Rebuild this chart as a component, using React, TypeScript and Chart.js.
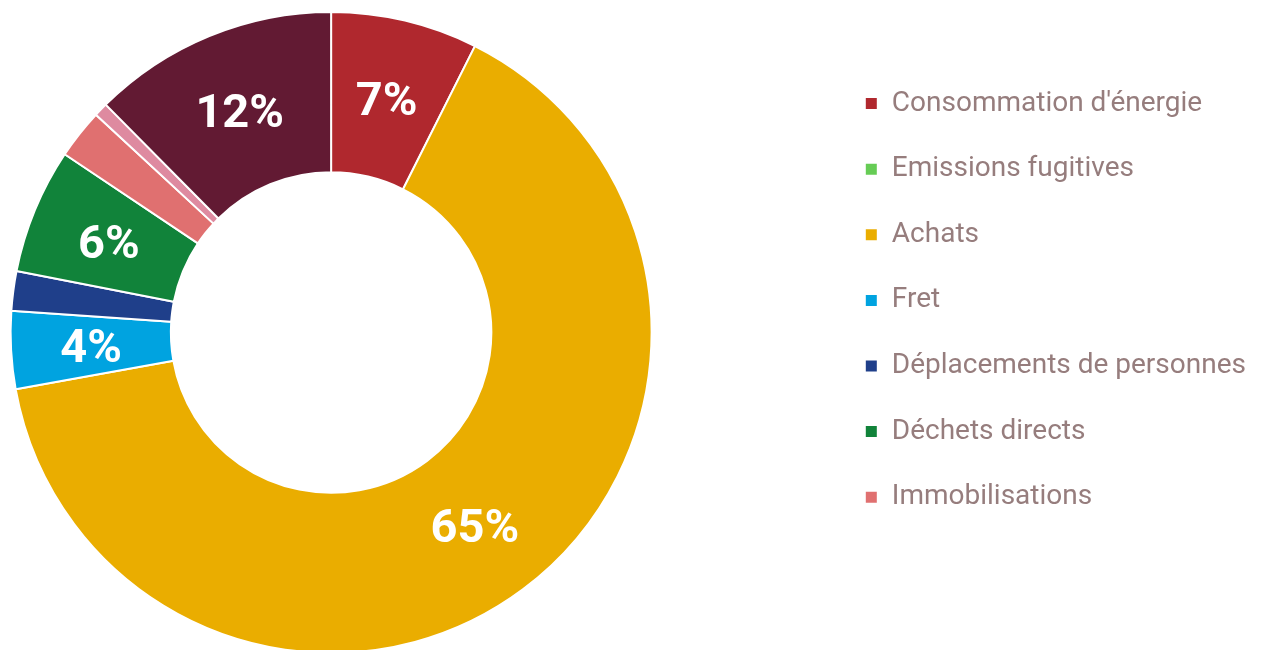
import React, { useEffect, useRef } from "react";
import { Chart, registerables } from "chart.js";

Chart.register(...registerables);

const categories = [
  "Consommation d'énergie",
  "Emissions fugitives",
  "Achats",
  "Fret",
  "Déplacements de personnes",
  "Déchets directs",
  "Immobilisations",
  "Utilisation",
  "Fin de vie",
];
const values = [7.4, 0, 64.7, 3.9, 2.0, 6.3, 2.5, 0.7, 12.4];
const colors = [
  "#b0282e",
  "#66cc55",
  "#eaad00",
  "#00a3e0",
  "#1f3f8a",
  "#11833a",
  "#e07070",
  "#de8aa0",
  "#621a33",
];
const legendCount = 7;

const labelPlugin = {
  id: "sliceLabels",
  afterDatasetsDraw(chart: any) {
    const ctx = chart.ctx;
    const meta = chart.getDatasetMeta(0);
    const data = chart.data.datasets[0].data as number[];
    const total = data.reduce((a, b) => a + b, 0);
    ctx.save();
    ctx.fillStyle = "#ffffff";
    ctx.font = "bold 47px Roboto";
    ctx.textAlign = "center";
    ctx.textBaseline = "middle";
    meta.data.forEach((arc: any, i: number) => {
      const pct = (data[i] / total) * 100;
      if (pct < 3) return;
      const p = arc.getCenterPoint();
      ctx.fillText(Math.round(pct) + "%", p.x, p.y + 5);
    });
    ctx.restore();
  },
};

export default function App() {
  const ref = useRef<HTMLCanvasElement>(null);
  useEffect(() => {
    if (!ref.current) return;
    const chart = new Chart(ref.current, {
      type: "doughnut",
      data: {
        labels: categories,
        datasets: [
          {
            data: values,
            backgroundColor: colors,
            borderColor: "#ffffff",
            borderWidth: 2,
            hoverOffset: 0,
          },
        ],
      },
      options: {
        animation: false,
        responsive: true,
        maintainAspectRatio: false,
        cutout: "50%",
        layout: { padding: { top: 11, bottom: 0, left: 0, right: 5 } },
        plugins: {
          tooltip: { enabled: false },
          legend: {
            position: "right",
            align: "start",
            title: { display: true, text: "", font: { size: 10 }, padding: { top: 29, bottom: 0 } },
            labels: {
              boxWidth: 13,
              boxHeight: 13,
              padding: 37.6,
              color: "#967d7d",
              font: { family: "Roboto", size: 28 },
              filter: (item: any) => item.index < legendCount,
            },
          },
        },
      },
      plugins: [labelPlugin],
    });
    return () => chart.destroy();
  }, []);
  return (
    <div style={{ position: "fixed", left: -165, top: 0, width: 1426, height: 654 }}>
      <canvas ref={ref} />
    </div>
  );
}
